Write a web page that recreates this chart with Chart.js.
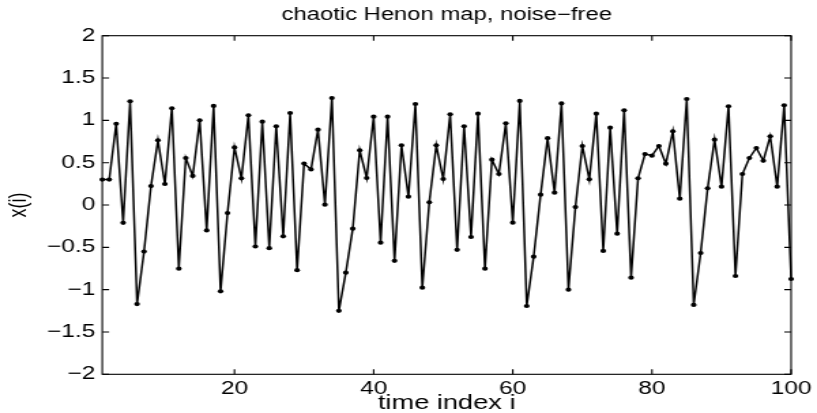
<!DOCTYPE html>
<html><head><meta charset="utf-8">
<script src="https://cdn.jsdelivr.net/npm/chart.js@4/dist/chart.umd.min.js"></script>
<style>
html,body{margin:0;padding:0;background:#fff;overflow:hidden;width:817px;height:413px}
#wrap{width:600px;height:413px;transform:scaleX(1.361667);transform-origin:0 0}
canvas{display:block}
</style></head><body>
<div id="wrap"><canvas id="c" width="600" height="413" style="width:600px;height:413px"></canvas></div>
<script>
const chartTitle = 'chaotic Henon map, noise\u2212free';
const xAxisLabel = 'time index i';
const yAxisLabel = 'x(i)';
const timeIndex = [1,2,3,4,5,6,7,8,9,10,11,12,13,14,15,16,17,18,19,20,
  21,22,23,24,25,26,27,28,29,30,31,32,33,34,35,36,37,38,39,40,
  41,42,43,44,45,46,47,48,49,50,51,52,53,54,55,56,57,58,59,60,
  61,62,63,64,65,66,67,68,69,70,71,72,73,74,75,76,77,78,79,80,
  81,82,83,84,85,86,87,88,89,90,91,92,93,94,95,96,97,98,99,100];
const xValues = [0.30,0.30,0.96,-0.21,1.225,-1.17,-0.55,0.224,0.764,0.248,
  1.142,-0.752,0.555,0.343,1.00,-0.30,1.17,-1.02,-0.095,0.68,
  0.315,1.06,-0.49,0.984,-0.51,0.93,-0.37,1.087,-0.77,0.49,
  0.42,0.89,0.004,1.264,-1.25,-0.80,-0.28,0.646,0.319,1.043,
  -0.445,1.043,-0.66,0.705,0.098,1.193,-0.977,0.032,0.705,0.307,
  1.071,-0.53,0.93,-0.378,1.079,-0.752,0.535,0.366,0.965,-0.209,
  1.229,-1.193,-0.61,0.122,0.79,0.146,1.20,-1.0,-0.024,0.697,
  0.303,1.079,-0.543,0.913,-0.339,1.118,-0.858,0.315,0.602,0.583,
  0.697,0.488,0.87,0.075,1.252,-1.181,-0.567,0.197,0.772,0.217,
  1.166,-0.839,0.366,0.555,0.673,0.523,0.811,0.217,1.177,-0.874];
const xTickValues = [20,40,60,80,100];
const yTickValues = [-2,-1.5,-1,-0.5,0,0.5,1,1.5,2];

const FONT = "'Liberation Sans', Arial, Helvetica, sans-serif";

const framePlugin = {
  id: 'frame',
  afterDatasetsDraw(chart) {
    const {ctx, chartArea: {left, right, top, bottom}, scales: {x, y}} = chart;
    const L = 5;
    ctx.save();
    ctx.strokeStyle = '#000';
    ctx.lineWidth = 1.1;
    ctx.strokeRect(left, top, right - left, bottom - top);
    ctx.beginPath();
    x.ticks.forEach(t => {
      const px = x.getPixelForValue(t.value);
      ctx.moveTo(px, bottom); ctx.lineTo(px, bottom - L);
      ctx.moveTo(px, top); ctx.lineTo(px, top + L);
    });
    y.ticks.forEach(t => {
      const py = y.getPixelForValue(t.value);
      ctx.moveTo(left, py); ctx.lineTo(left + L, py);
      ctx.moveTo(right, py); ctx.lineTo(right - L, py);
    });
    ctx.stroke();
    ctx.restore();
  }
};

new Chart(document.getElementById('c'), {
  type: 'line',
  data: {
    labels: timeIndex,
    datasets: [{
      data: xValues,
      borderColor: '#000',
      backgroundColor: '#000',
      borderWidth: 1.5,
      pointRadius: 2.1,
      pointBorderWidth: 0,
      pointBackgroundColor: '#000',
      tension: 0,
      fill: false,
      clip: false
    }]
  },
  options: {
    responsive: false,
    animation: false,
    devicePixelRatio: 1,
    layout: {padding: {left: 0, right: 15.4, top: 0, bottom: 0}},
    plugins: {
      legend: {display: false},
      tooltip: {enabled: false},
      title: {
        display: true,
        text: chartTitle,
        fullSize: false,
        color: '#000',
        font: {family: FONT, size: 17.5, weight: 'normal', lineHeight: 1.2},
        padding: {top: 5, bottom: 9.7}
      }
    },
    scales: {
      x: {
        type: 'linear',
        min: 1, max: 100,
        offset: false,
        grid: {display: false, drawTicks: false},
        border: {display: false},
        afterBuildTicks: s => { s.ticks = xTickValues.map(v => ({value: v})); },
        afterFit: s => { s.height = 38.7; },
        ticks: {
          color: '#000', padding: 4, maxRotation: 0, autoSkip: false,
          font: {family: FONT, size: 18},
          callback: v => String(v)
        },
        title: {
          display: true, text: xAxisLabel, color: '#000',
          font: {family: FONT, size: 20, lineHeight: 1},
          padding: {top: 0, bottom: 0}
        }
      },
      y: {
        type: 'linear',
        min: -2, max: 2,
        grid: {display: false, drawTicks: false},
        border: {display: false},
        afterBuildTicks: s => { s.ticks = yTickValues.map(v => ({value: v})); },
        afterFit: s => { s.width = 75.1; },
        ticks: {
          color: '#000', padding: 5, autoSkip: false,
          font: {family: FONT, size: 18},
          callback: v => String(v).replace('-', '\u2212')
        },
        title: {
          display: true, text: yAxisLabel, color: '#000',
          font: {family: FONT, size: 18, lineHeight: 1.2},
          padding: {top: 3, bottom: 0}
        }
      }
    }
  },
  plugins: [framePlugin]
});
</script>
</body></html>
